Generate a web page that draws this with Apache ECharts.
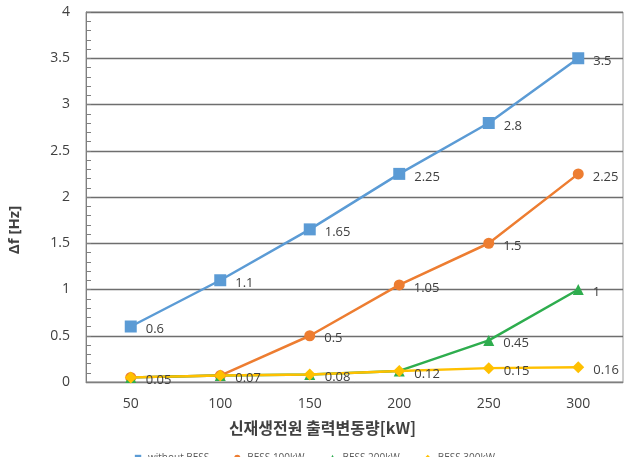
<!DOCTYPE html>
<html>
<head>
<meta charset="utf-8">
<script src="https://cdn.jsdelivr.net/npm/echarts@6/dist/echarts.min.js"></script>
<style>
  html, body { margin: 0; padding: 0; background: #fff; }
  #chart { width: 627px; height: 457px; }
</style>
</head>
<body>
<div id="chart"></div>
<script>
// data
var categories = ['50', '100', '150', '200', '250', '300'];
var withoutBess = [0.6, 1.1, 1.65, 2.25, 2.8, 3.5];
var bess100 = [0.05, 0.07, 0.5, 1.05, 1.5, 2.25];
var bess200 = [0.05, 0.07, 0.08, 0.12, 0.45, 1];
var bess300 = [0.05, 0.07, 0.08, 0.12, 0.15, 0.16];
var seriesNames = ['without BESS', 'BESS 100kW', 'BESS 200kW', 'BESS 300kW'];
var yTicks = ['0', '0.5', '1', '1.5', '2', '2.5', '3', '3.5', '4'];

// which points carry a value label (overlapping ones are hidden)
var labelFrom = [0, 2, 4, 0];

var numFont = '"Open Sans", "Noto Sans", sans-serif';
var krFont = '"Noto Sans CJK KR", sans-serif';

function mkSeries(name, values, color, symbol, size, from) {
    return {
        name: name,
        type: 'line',
        data: values.map(function (v, i) {
            return { value: v, label: { show: i >= from } };
        }),
        symbol: symbol,
        symbolSize: size,
        lineStyle: { color: color, width: 2.5 },
        itemStyle: { color: color },
        label: {
            position: 'right',
            distance: 9,
            offset: [0, 3],
            color: '#404040',
            fontSize: 13,
            fontFamily: numFont
        },
        emphasis: { disabled: true }
    };
}

var chart = echarts.init(document.getElementById('chart'), null, {renderer: 'canvas'});

chart.setOption({
    animation: false,
    grid: { left: 86, right: 4, top: 12, bottom: 75 },
    legend: {
        top: 448,
        left: 'center',
        itemWidth: 10,
        itemHeight: 8,
        itemGap: 22,
        textStyle: { fontSize: 10, color: '#595959', fontFamily: numFont },
        data: seriesNames
    },
    xAxis: {
        type: 'category',
        data: categories,
        boundaryGap: true,
        name: '신재생전원 출력변동량[kW]',
        nameLocation: 'middle',
        nameGap: 38,
        nameTextStyle: {
            fontSize: 16, fontWeight: 'bold', color: '#404040', fontFamily: krFont,
            padding: [0, 64, 0, 0]
        },
        axisLine: { lineStyle: { color: '#7f7f7f', width: 1 } },
        axisTick: { show: false },
        axisLabel: { fontSize: 14, color: '#404040', fontFamily: numFont, margin: 15 },
        splitLine: { show: false }
    },
    yAxis: [{
        type: 'value',
        min: 0,
        max: 4,
        interval: 0.5,
        axisLine: { show: true, lineStyle: { color: '#7f7f7f' } },
        axisTick: { show: false },
        axisLabel: {
            fontSize: 14, color: '#404040', fontFamily: numFont, margin: 16,
            formatter: function (v) {
                var idx = Math.round(v / 0.5);
                return yTicks[idx];
            }
        },
        splitLine: { lineStyle: { color: '#6e6e6e', width: 1.3 } }
    }, {
        // small ticks along the value axis
        type: 'value',
        position: 'left',
        min: 0,
        max: 4,
        interval: 0.1,
        axisLine: { show: false },
        axisTick: { show: true, inside: true, length: 5, lineStyle: { color: '#7f7f7f' } },
        axisLabel: { show: false },
        splitLine: { show: false }
    }],
    graphic: [{
        type: 'rect',
        shape: { x: 86, y: 12, width: 537, height: 370 },
        style: { fill: 'none', stroke: '#9a9a9a', lineWidth: 1 },
        silent: true
    }, {
        type: 'text',
        x: 15,
        y: 230,
        rotation: Math.PI / 2,
        style: {
            text: 'Δf [Hz]',
            fill: '#404040',
            font: 'bold 15px "Open Sans", sans-serif',
            align: 'center',
            verticalAlign: 'middle'
        },
        silent: true
    }],
    series: [
        mkSeries(seriesNames[0], withoutBess, '#5B9BD5', 'rect', 12, labelFrom[0]),
        mkSeries(seriesNames[1], bess100, '#ED7D31', 'circle', 11, labelFrom[1]),
        mkSeries(seriesNames[2], bess200, '#2EAD4E', 'triangle', 11, labelFrom[2]),
        mkSeries(seriesNames[3], bess300, '#FFC000', 'diamond', 12, labelFrom[3])
    ]
});
</script>
</body>
</html>
